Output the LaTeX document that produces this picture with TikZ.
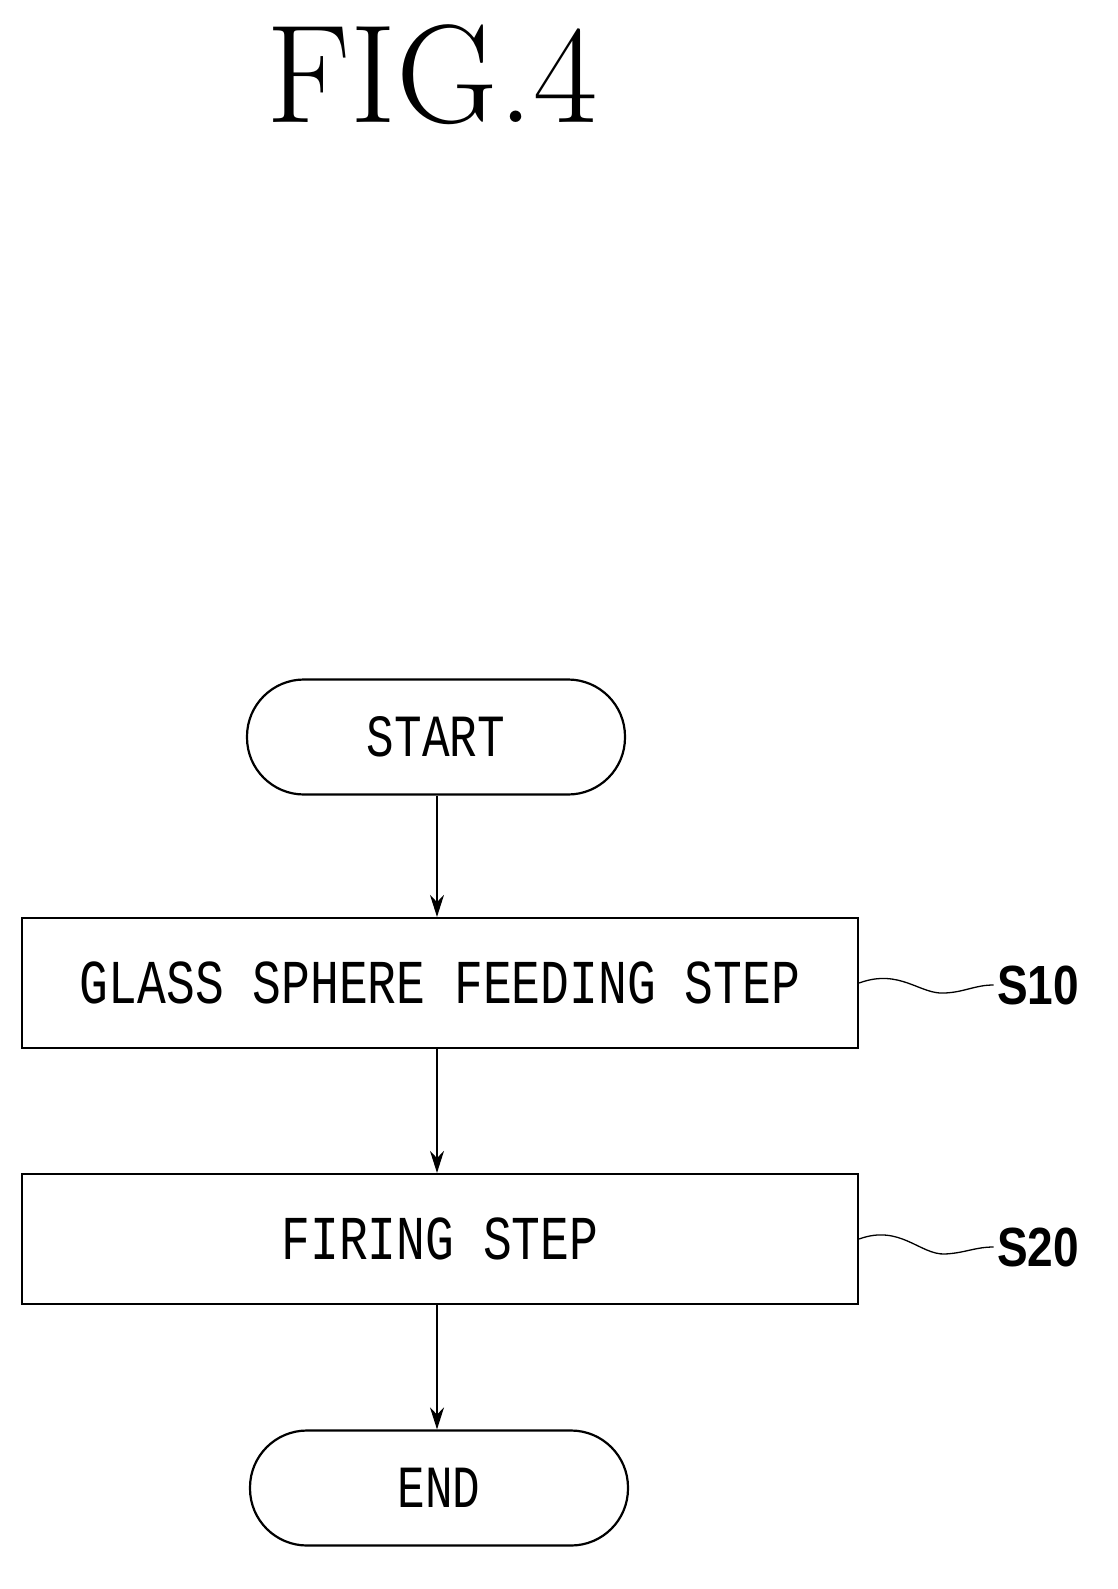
\documentclass[tikz,border=0pt]{standalone}
\usepackage{fontspec}
\setmonofont{Liberation Mono}
\newfontfamily\labfont{Liberation Sans}
\usetikzlibrary{arrows.meta}
\begin{document}
\begin{tikzpicture}[x=1pt,y=-1pt,
  term/.style={draw,line width=2.2pt,rounded corners=57pt,minimum width=378pt,minimum height=115pt,font=\ttfamily\fontsize{46}{50}\selectfont},
  stepbox/.style={draw,line width=2.2pt,minimum width=836pt,minimum height=130pt,font=\ttfamily\fontsize{48}{52}\selectfont},
  arr/.style={-{Stealth[length=22pt,width=14pt]},line width=1.3pt},
  lab/.style={font=\labfont\bfseries\fontsize{46}{50}\selectfont},
  wave/.style={line width=1.3pt}]
\useasboundingbox (0,0) rectangle (1118,1589);
\node[font=\rmfamily\fontsize{140}{150}\selectfont] (title) at (432,75) {FIG.4};
\node[term] (start) at (436,737) {\scalebox{1}[1.3]{START}};
\node[stepbox] (s10) at (440,983) {\scalebox{1}[1.3]{GLASS SPHERE FEEDING STEP}};
\node[stepbox] (s20) at (440,1239) {\scalebox{1}[1.3]{FIRING STEP}};
\node[term] (end) at (439,1488) {\scalebox{1}[1.3]{END}};
\draw[arr] (start.south -| 437,0) -- (s10.north -| 437,0);
\draw[arr] (s10.south -| 437,0) -- (s20.north -| 437,0);
\draw[arr] (s20.south -| 437,0) -- (end.north -| 437,0);
\node[lab] (l10) at (1038,985) {\scalebox{1}[1.2]{S10}};
\node[lab] (l20) at (1038,1247) {\scalebox{1}[1.2]{S20}};
\draw[wave] (s10.east) .. controls (900,968) and (920,995) .. (945,993) .. controls (965,992) and (975,985) .. (l10.west);
\draw[wave] (s20.east) .. controls (900,1224) and (920,1255) .. (945,1254) .. controls (965,1253) and (975,1247) .. (l20.west);
\end{tikzpicture}
\end{document}
